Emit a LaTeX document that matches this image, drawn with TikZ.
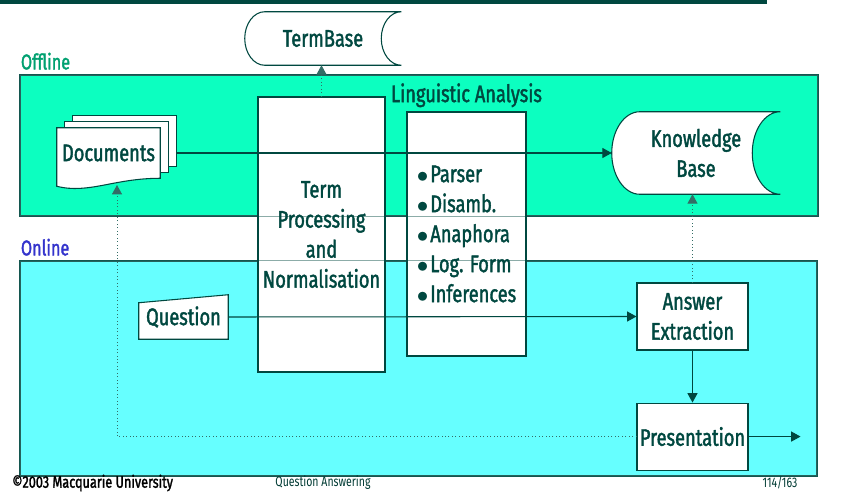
\documentclass[tikz,border=0pt]{standalone}
\usepackage{fontspec}
\setmainfont{Fira Sans}[FakeStretch=0.76]
\newfontfamily\boxfont{Fira Sans}[FakeStretch=0.76, FakeBold=1.6]
\usetikzlibrary{positioning, calc, arrows.meta}
\definecolor{ink}{RGB}{0,72,64}
\definecolor{offfill}{RGB}{12,255,192}
\definecolor{onfill}{RGB}{102,255,255}
\definecolor{offtext}{RGB}{0,160,112}
\definecolor{ontext}{RGB}{51,51,204}
\pgfdeclarelayer{panel}
\pgfdeclarelayer{shape}
\pgfsetlayers{panel,shape,main}
\tikzset{box/.style={draw=ink, fill=white, line width=0.8pt, text=ink, align=center, inner sep=0pt,
    font=\boxfont\fontsize{18}{22.5}\selectfont},
  holder/.style={text=ink, align=center, inner sep=0pt, font=\boxfont\fontsize{18}{22.5}\selectfont},
  panel/.style={draw=ink!85, line width=1pt},
  tag/.style={inner xsep=1pt, font=\boxfont\fontsize{16}{18}\selectfont},
  flow/.style={draw=ink, line width=0.8pt, -{Triangle[length=7pt,width=7.5pt]}},
  hint/.style={draw=ink!80, dotted, line width=0.6pt, -{Triangle[length=7pt,width=7.5pt]}}}
\newcommand{\dotitem}{$\bullet$\kern1.5pt}

% stored data outline round a node: #1 node, #2 depth of the curved ends
\newcommand{\storeddata}[2]{%
  \begin{pgfonlayer}{shape}
    \filldraw[draw=ink, fill=white, line width=0.8pt]
      ($(#1.north west)+(#2,0)$) -- (#1.north east)
      .. controls ($(#1.north east)+(-0.55*#2,0)$) and ($(#1.east)!0.55!(#1.north east)+(-#2,0)$) .. ($(#1.east)+(-#2,0)$)
      .. controls ($(#1.east)!0.55!(#1.south east)+(-#2,0)$) and ($(#1.south east)+(-0.55*#2,0)$) .. (#1.south east)
      -- ($(#1.south west)+(#2,0)$)
      .. controls ($(#1.south west)+(0.45*#2,0)$) and ($(#1.west)!0.55!(#1.south west)$) .. (#1.west)
      .. controls ($(#1.west)!0.55!(#1.north west)$) and ($(#1.north west)+(0.45*#2,0)$) .. cycle;
  \end{pgfonlayer}}

\begin{document}
\begin{tikzpicture}[x=0.75pt, y=-0.75pt]
    \useasboundingbox (0,0) rectangle (865,492);
    \fill[ink] (0,0) rectangle (767,4);

    % the two areas
    \begin{pgfonlayer}{panel}
      \node[panel, fill=offfill, minimum width=598.5pt, minimum height=105.75pt,
        label={[tag, text=offtext, anchor=south west]north west:Offline}
        ](offline) at (419,145.5){};
      \node[panel, fill=onfill, minimum width=597.75pt, minimum height=161.25pt,
        label={[tag, text=ontext, anchor=south west]north west:Online}
        ](online) at (418.5,368.5){};
    \end{pgfonlayer}

    \node[box, minimum width=95.25pt, minimum height=206.25pt](term) at (321.5,234.5)
      {Term\\Processing\\and\\Normalisation};
    \node[box, minimum width=89.25pt, minimum height=183pt, align=left,
      label={[holder, label distance=3pt]north:Linguistic Analysis}
      ](ling) at (466.5,234)
      {\dotitem Parser\\\dotitem Disamb.\\\dotitem Anaphora\\\dotitem Log. Form\\\dotitem Inferences};
    \draw[ink, draw opacity=0.45, line width=1pt]
      (offline.north west) rectangle (offline.south east)
      (online.north west) rectangle (online.south east);

    \node[holder, minimum width=117pt, minimum height=39.75pt](tb) at (323,38.5){TermBase};
    \storeddata{tb}{15pt}
    \node[holder, minimum width=126pt, minimum height=61.5pt](kb) at (696,153){Knowledge\\Base};
    \storeddata{kb}{21pt}

    \node[holder, minimum width=77.25pt, minimum height=37.5pt](docs) at (108.5,153){Documents};
    \begin{pgfonlayer}{shape}
      \filldraw[draw=ink, fill=white, line width=0.8pt]
        ($(docs.north west)+(12pt,9pt)$) rectangle ($(docs.south east)+(12pt,9pt)$);
      \filldraw[draw=ink, fill=white, line width=0.8pt]
        ($(docs.north west)+(6pt,4.5pt)$) rectangle ($(docs.south east)+(6pt,4.5pt)$);
      \filldraw[draw=ink, fill=white, line width=0.8pt]
        (docs.north west) -- (docs.north east) -- (docs.south east)
        .. controls ($(docs.south east)+(-35pt,0)$) and ($(docs.south west)+(24pt,-12pt)$)
        .. ($(docs.south west)+(0,-6pt)$) -- cycle;
    \end{pgfonlayer}
    \coordinate (docsfoot) at (117,185);

    \node[holder, minimum width=66.75pt, minimum height=33pt](q) at (183.5,317){Question};
    \begin{pgfonlayer}{shape}
      \filldraw[draw=ink, fill=white, line width=0.8pt]
        (q.south west) -- ($(q.north west)+(0,-6pt)$) -- (q.north east) -- (q.south east) -- cycle;
    \end{pgfonlayer}

    \node[box, minimum width=83.25pt, minimum height=50.25pt](ae) at (692.5,316.5){Answer\\Extraction};
    \node[box, minimum width=83.25pt, minimum height=50.25pt, below=39pt of ae](pres){Presentation};
    \coordinate[right=39pt of pres] (out);

    \draw[flow] ($(docs.east)+(12pt,0)$) -- (kb.west);
    \draw[flow] (q.east) -- (ae.west);
    \draw[flow] (ae) -- (pres);
    \draw[flow] (pres) -- (out);
    \draw[hint] (pres.west) -| (docsfoot);
    \draw[hint] (ae.north) -- (ae.north |- kb.south);
    \draw[hint] (term.north) -- (term.north |- tb.south);

    % footer
    \node[anchor=west, inner sep=0pt, font=\boxfont\fontsize{12.5}{14}\selectfont](copy) at (12,483)
      {©2003 Macquarie University};
    \node[inner sep=0pt, text=ink!80!black, font=\fontsize{10.4}{12}\selectfont](course) at (323,483)
      {Question Answering};
    \node[inner sep=0pt, text=ink!80!black, font=\fontsize{10.4}{12}\selectfont](page) at (780,483)
      {114/163};
\end{tikzpicture}
\end{document}
